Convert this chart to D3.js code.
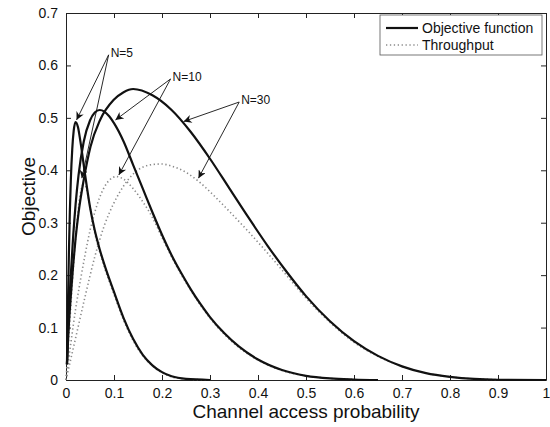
<!DOCTYPE html>
<html>
<head>
<meta charset="utf-8">
<script src="https://cdn.jsdelivr.net/npm/d3@7"></script>
<style>
  body { margin: 0; background: #fff; }
  text { font-family: "Liberation Sans", Arial, sans-serif; fill: #111; }
</style>
</head>
<body>
<script>
// values (x = channel access probability, y = objective)
const xTicks = [0, 0.1, 0.2, 0.3, 0.4, 0.5, 0.6, 0.7, 0.8, 0.9, 1];
const yTicks = [0, 0.1, 0.2, 0.3, 0.4, 0.5, 0.6, 0.7];

// objective function, three curves (solid)
const objA_x = [0.002, 0.004, 0.006, 0.008, 0.010, 0.013, 0.016, 0.020, 0.025, 0.030, 0.040, 0.050, 0.060, 0.070, 0.080, 0.100, 0.120, 0.140, 0.160, 0.180, 0.200, 0.220, 0.250, 0.300];
const objA_y = [0.03, 0.14, 0.24, 0.32, 0.38, 0.44, 0.475, 0.492, 0.482, 0.455, 0.39, 0.33, 0.285, 0.25, 0.22, 0.168, 0.118, 0.078, 0.048, 0.028, 0.015, 0.007, 0.002, 0];

const objB_x = [0.002, 0.005, 0.010, 0.015, 0.020, 0.026, 0.037, 0.050, 0.060, 0.070, 0.080, 0.090, 0.100, 0.120, 0.140, 0.160, 0.180, 0.200, 0.220, 0.240, 0.260, 0.280, 0.300, 0.330, 0.360, 0.400, 0.450, 0.500, 0.550, 0.600, 0.650];
const objB_y = [0.03, 0.11, 0.20, 0.275, 0.335, 0.39, 0.455, 0.495, 0.51, 0.515, 0.512, 0.503, 0.49, 0.455, 0.41, 0.365, 0.32, 0.277, 0.238, 0.204, 0.173, 0.145, 0.12, 0.089, 0.064, 0.039, 0.019, 0.008, 0.003, 0.001, 0];

const objC_x = [0.002, 0.005, 0.010, 0.015, 0.020, 0.026, 0.037, 0.051, 0.071, 0.099, 0.120, 0.140, 0.180, 0.220, 0.260, 0.300, 0.340, 0.380, 0.420, 0.460, 0.500, 0.550, 0.600, 0.650, 0.700, 0.750, 0.800, 0.850, 0.900, 1.000];
const objC_y = [0.03, 0.09, 0.16, 0.22, 0.27, 0.318, 0.382, 0.445, 0.496, 0.534, 0.549, 0.555, 0.543, 0.515, 0.473, 0.422, 0.366, 0.31, 0.256, 0.206, 0.16, 0.112, 0.074, 0.046, 0.026, 0.013, 0.006, 0.002, 0.0005, 0];

// throughput, three curves (dotted)
const thrA_x = [0, 0.005, 0.010, 0.015, 0.020, 0.025, 0.030, 0.035, 0.040, 0.045, 0.050, 0.060, 0.070, 0.080, 0.100, 0.120, 0.140, 0.160, 0.180, 0.200, 0.220, 0.250, 0.300];
const thrA_y = [0, 0.07, 0.14, 0.21, 0.27, 0.32, 0.355, 0.372, 0.37, 0.355, 0.33, 0.28, 0.245, 0.215, 0.163, 0.114, 0.075, 0.046, 0.027, 0.014, 0.006, 0.002, 0];

const thrB_x = [0, 0.010, 0.020, 0.030, 0.040, 0.050, 0.060, 0.070, 0.080, 0.090, 0.105, 0.120, 0.140, 0.160, 0.180, 0.200, 0.220, 0.240, 0.260, 0.280, 0.300, 0.330, 0.360, 0.400, 0.450, 0.500, 0.550, 0.600];
const thrB_y = [0, 0.07, 0.135, 0.19, 0.24, 0.285, 0.32, 0.348, 0.368, 0.381, 0.388, 0.383, 0.365, 0.34, 0.31, 0.272, 0.235, 0.201, 0.171, 0.143, 0.118, 0.087, 0.062, 0.038, 0.018, 0.008, 0.003, 0.001];

const thrC_x = [0, 0.020, 0.040, 0.060, 0.080, 0.100, 0.120, 0.140, 0.160, 0.180, 0.200, 0.220, 0.250, 0.280, 0.310, 0.340, 0.380, 0.420, 0.460, 0.500, 0.550, 0.600, 0.650, 0.700, 0.750, 0.800, 0.900];
const thrC_y = [0, 0.08, 0.16, 0.235, 0.295, 0.338, 0.37, 0.393, 0.406, 0.411, 0.412, 0.408, 0.396, 0.376, 0.35, 0.322, 0.283, 0.242, 0.199, 0.156, 0.11, 0.072, 0.045, 0.026, 0.013, 0.006, 0.0005];

// annotation labels and the points their arrows reach (data units)
const noteLabels = ["N=5", "N=10", "N=30"];
const noteText_x = [0.093, 0.222, 0.365];
const noteText_y = [0.624, 0.578, 0.534];
const noteTips_x = [[0.022, 0.033], [0.103, 0.110], [0.245, 0.276]];
const noteTips_y = [[0.496, 0.385], [0.496, 0.391], [0.493, 0.385]];

const legendLabels = ["Objective function", "Throughput"];

const width = 550, height = 427;
const margin = { top: 13, right: 4, bottom: 47, left: 66 };

const svg = d3.select('body').append('svg')
    .attr('width', width)
    .attr('height', height);

const x = d3.scaleLinear().domain([0, 1]).range([margin.left, width - margin.right]);
const y = d3.scaleLinear().domain([0, 0.7]).range([height - margin.bottom, margin.top]);

// ticks point inward on all four sides, like matlab
svg.append('g')
    .attr('transform', `translate(0,${y(0)})`)
    .call(d3.axisBottom(x).tickValues(xTicks).tickSizeInner(-5).tickSizeOuter(0).tickPadding(8).tickFormat(d3.format('')))
    .call(g => g.selectAll('text').style('font-size', '14px'));
svg.append('g')
    .attr('transform', `translate(0,${y(0.7)})`)
    .call(d3.axisTop(x).tickValues(xTicks).tickSizeInner(-5).tickSizeOuter(0).tickFormat(''));
svg.append('g')
    .attr('transform', `translate(${x(0)},0)`)
    .call(d3.axisLeft(y).tickValues(yTicks).tickSizeInner(-5).tickSizeOuter(0).tickPadding(8).tickFormat(d3.format('')))
    .call(g => g.selectAll('text').style('font-size', '14px'));
svg.append('g')
    .attr('transform', `translate(${x(1)},0)`)
    .call(d3.axisRight(y).tickValues(yTicks).tickSizeInner(-5).tickSizeOuter(0).tickFormat(''));

svg.selectAll('.domain').attr('stroke', '#222');
svg.selectAll('.tick line').attr('stroke', '#222');

// axis titles
svg.append('text')
    .attr('x', (x(0) + x(1)) / 2)
    .attr('y', 418)
    .attr('text-anchor', 'middle')
    .style('font-size', '19px')
    .text('Channel access probability');
svg.append('text')
    .attr('transform', `translate(35,${(y(0) + y(0.7)) / 2}) rotate(-90)`)
    .attr('text-anchor', 'middle')
    .style('font-size', '19px')
    .text('Objective');

const line = d3.line()
    .x(d => x(d[0]))
    .y(d => y(d[1]))
    .curve(d3.curveMonotoneX);

const thrSeries = [[thrA_x, thrA_y], [thrB_x, thrB_y], [thrC_x, thrC_y]];
const objSeries = [[objA_x, objA_y], [objB_x, objB_y], [objC_x, objC_y]];

svg.selectAll('.thr')
    .data(thrSeries)
    .enter()
    .append('path')
    .attr('class', 'thr')
    .attr('fill', 'none')
    .attr('stroke', '#8a8a8a')
    .attr('stroke-width', 1.6)
    .attr('stroke-dasharray', '1.3,2.6')
    .attr('d', s => line(d3.zip(s[0], s[1])));

svg.selectAll('.obj')
    .data(objSeries)
    .enter()
    .append('path')
    .attr('class', 'obj')
    .attr('fill', 'none')
    .attr('stroke', '#111')
    .attr('stroke-width', 2.2)
    .attr('d', s => line(d3.zip(s[0], s[1])));

// arrows
svg.append('defs').append('marker')
    .attr('id', 'head')
    .attr('viewBox', '0 0 10 10')
    .attr('refX', 10).attr('refY', 5)
    .attr('markerWidth', 12).attr('markerHeight', 8)
    .attr('markerUnits', 'userSpaceOnUse')
    .attr('orient', 'auto')
    .append('path')
    .attr('d', 'M0,0L10,5L0,10L3,5Z')
    .attr('fill', '#111');

noteLabels.forEach((lab, i) => {
    noteTips_x[i].forEach((tx, j) => {
        svg.append('line')
            .attr('x1', x(noteText_x[i]) - 2)
            .attr('y1', y(noteText_y[i]) + 2)
            .attr('x2', x(tx))
            .attr('y2', y(noteTips_y[i][j]))
            .attr('stroke', '#111')
            .attr('stroke-width', 0.9)
            .attr('marker-end', 'url(#head)');
    });
    svg.append('text')
        .attr('x', x(noteText_x[i]))
        .attr('y', y(noteText_y[i]) + 4)
        .style('font-size', '12px')
        .text(lab);
});

// legend
const lg = svg.append('g');
lg.append('rect')
    .attr('x', 380).attr('y', 15)
    .attr('width', 162).attr('height', 40)
    .attr('fill', '#fff')
    .attr('stroke', '#555')
    .attr('stroke-width', 0.8);
legendLabels.forEach((lab, i) => {
    const ly = 28 + i * 17;
    lg.append('line')
        .attr('x1', 386).attr('x2', 418)
        .attr('y1', ly).attr('y2', ly)
        .attr('stroke', i === 0 ? '#111' : '#8a8a8a')
        .attr('stroke-width', i === 0 ? 2.2 : 1.6)
        .attr('stroke-dasharray', i === 0 ? null : '1.3,2.6');
    lg.append('text')
        .attr('x', 422).attr('y', ly + 5)
        .style('font-size', '14px')
        .text(lab);
});
</script>
</body>
</html>
